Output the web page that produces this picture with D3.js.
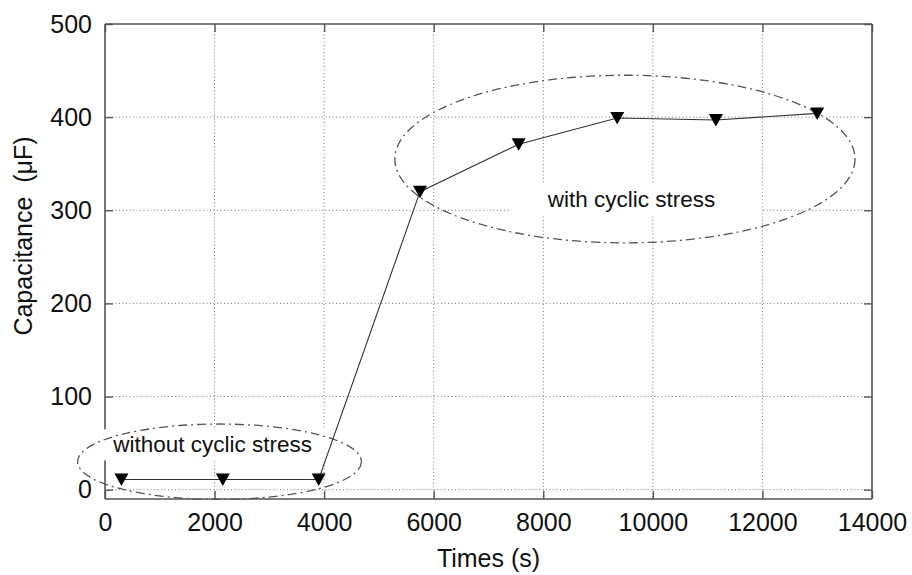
<!DOCTYPE html>
<html><head><meta charset="utf-8">
<script src="https://cdn.jsdelivr.net/npm/d3@7"></script>
<style>
body{margin:0;background:#fff;}
svg{font-family:"Liberation Sans",Arial,sans-serif;}
text{white-space:pre;}
</style></head>
<body><svg id="c" width="912" height="575"></svg>
<script>
const times = [300, 2150, 3900, 5750, 7550, 9350, 11150, 13000];
const capacitance = [11, 11, 11, 320, 371, 399, 397, 404];
const xTicks = [0, 2000, 4000, 6000, 8000, 10000, 12000, 14000];
const yTicks = [0, 100, 200, 300, 400, 500];
const xLabel = "Times (s)";
const yLabel = "Capacitance  (\u03BCF)";
const annLabels = ["with cyclic stress", "without cyclic stress"];
const annPos = [[8080, 303], [150, 40]];
const ellipseCenters = [[9490, 355], [2090, 30]];
const ellipseRadii = [[4200, 90], [2590, 40.5]];

const svg = d3.select("#c");
const L = 105, R = 872, T = 24, B = 499;
const x = d3.scaleLinear().domain([0, 14000]).range([L, R]);
const y = d3.scaleLinear().domain([-10, 500]).range([B, T]);

// grid
const g = svg.append("g");
g.selectAll(".vg").data(xTicks.slice(1, -1)).enter().append("line")
  .attr("x1", d => x(d)).attr("x2", d => x(d)).attr("y1", T).attr("y2", B)
  .attr("stroke", "#777").attr("stroke-width", 1).attr("stroke-dasharray", "1,2.5");
g.selectAll(".hg").data(yTicks.slice(0, -1)).enter().append("line")
  .attr("y1", d => y(d)).attr("y2", d => y(d)).attr("x1", L).attr("x2", R)
  .attr("stroke", "#777").attr("stroke-width", 1).attr("stroke-dasharray", "1,2.5");

// axes (box + inward ticks)
const axCol = "#555";
const xb = d3.axisBottom(x).tickValues(xTicks).tickSize(-8).tickPadding(14).tickFormat(d3.format("d"));
const xt = d3.axisTop(x).tickValues(xTicks).tickSize(-8).tickFormat("");
const yl = d3.axisLeft(y).tickValues(yTicks).tickSize(-8).tickPadding(13).tickFormat(d3.format("d"));
const yr = d3.axisRight(y).tickValues(yTicks).tickSize(-8).tickFormat("");
function style(sel){
  sel.select(".domain").attr("stroke", axCol).attr("stroke-width", 1.6);
  sel.selectAll(".tick line").attr("stroke", axCol).attr("stroke-width", 1.4);
  sel.selectAll(".tick text").attr("fill", "#111").style("font-size", "25px").style("font-family", "Liberation Sans, Arial, sans-serif");
}
svg.append("g").attr("transform", `translate(0,${B})`).call(xb).call(style).call(s => s.select(".domain").attr("d", `M${L},0H${R}`));
svg.append("g").attr("transform", `translate(0,${T})`).call(xt).call(style).call(s => s.select(".domain").attr("d", `M${L},0H${R}`));
svg.append("g").attr("transform", `translate(${L},0)`).call(yl).call(style).call(s => s.select(".domain").attr("d", `M0,${T}V${B}`));
svg.append("g").attr("transform", `translate(${R},0)`).call(yr).call(style).call(s => s.select(".domain").attr("d", `M0,${T}V${B}`));

// annotation background boxes
const pads = [[37, 47], [10, 13]];
const ann = svg.append("g");
annLabels.forEach((t, i) => {
  const tx = ann.append("text").attr("x", x(annPos[i][0])).attr("y", y(annPos[i][1]))
    .text(t).style("font-size", "22.5px").attr("fill", "#111");
  const bb = tx.node().getBBox();
  ann.insert("rect", "text").attr("x", bb.x - pads[i][0]).attr("y", bb.y - 3)
    .attr("width", bb.width + pads[i][0] + pads[i][1]).attr("height", bb.height + 6)
    .attr("fill", "#fff");
});

// ellipses
svg.selectAll(".ell").data(ellipseCenters).enter().append("ellipse")
  .attr("cx", d => x(d[0])).attr("cy", d => y(d[1]))
  .attr("rx", (d, i) => x(ellipseRadii[i][0]) - x(0))
  .attr("ry", (d, i) => y(0) - y(ellipseRadii[i][1]))
  .attr("fill", "none").attr("stroke", "#555").attr("stroke-width", 1.3)
  .attr("stroke-dasharray", "9,4,2,4");

// data line
const pts = times.map((t, i) => [t, capacitance[i]]);
svg.append("path").datum(pts)
  .attr("d", d3.line().x(d => x(d[0])).y(d => y(d[1])))
  .attr("fill", "none").attr("stroke", "#333").attr("stroke-width", 1.1);
svg.selectAll(".mk").data(pts).enter().append("path")
  .attr("transform", d => `translate(${x(d[0])},${y(d[1])})`)
  .attr("d", "M-7,-6L7,-6L0,6.5Z").attr("fill", "#000");

// bring annotation texts to front
ann.raise();
ann.selectAll("rect").lower();
svg.selectAll("ellipse").raise();
svg.selectAll("path").filter(function(){return this.parentNode === svg.node();}).raise();
ann.selectAll("text").each(function(){ svg.node().appendChild(this); });

// axis labels
svg.append("text").attr("x", (L + R) / 2).attr("y", 567).attr("text-anchor", "middle")
  .style("font-size", "25px").attr("fill", "#111").text(xLabel);
svg.append("text").attr("transform", "translate(32,236) rotate(-90)").attr("text-anchor", "middle")
  .attr("xml:space", "preserve")
  .style("font-size", "25px").attr("fill", "#111").text(yLabel);
</script></body></html>
